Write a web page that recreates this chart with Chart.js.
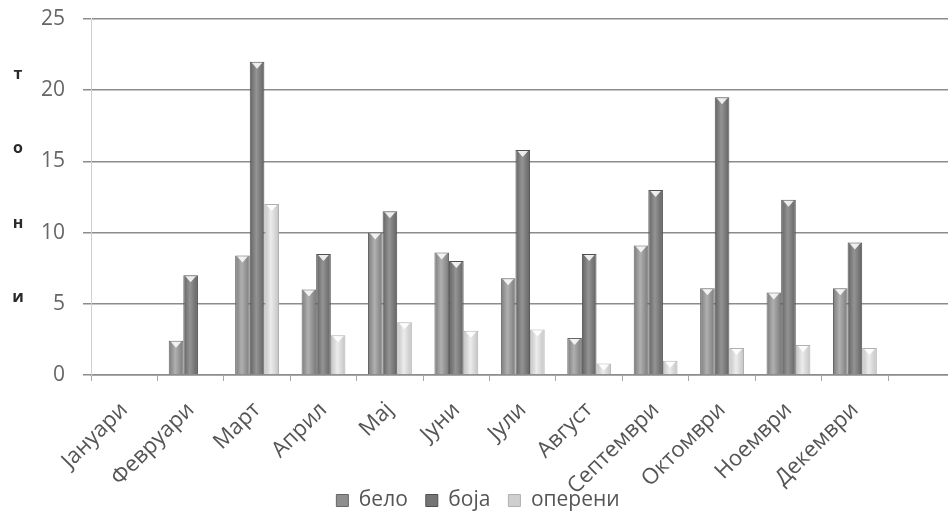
<!DOCTYPE html>
<html>
<head>
<meta charset="utf-8">
<script src="https://cdn.jsdelivr.net/npm/chart.js@4/dist/chart.umd.min.js"></script>
<style>
  html, body { margin: 0; padding: 0; background: #fff; overflow: hidden; }
  #wrap { width: 956px; height: 515px; position: relative; }
</style>
</head>
<body>
<div id="wrap"><canvas id="c"></canvas></div>
<script>
// Monthly quantities in tonnes (the trailing blank slot leaves room at the right edge)
const months = ['Јануари', 'Февруари', 'Март', 'Април', 'Мај', 'Јуни', 'Јули', 'Август', 'Септември', 'Октомври', 'Ноември', 'Декември', ''];
const belo    = [0, 2.4, 8.4, 6.0, 10.0, 8.6, 6.8, 2.6, 9.1, 6.1, 5.8, 6.1, null];
const boja    = [0, 7.0, 22.0, 8.5, 11.5, 8.0, 15.8, 8.5, 13.0, 19.5, 12.3, 9.3, null];
const opereni = [0, 0, 12.0, 2.8, 3.7, 3.1, 3.2, 0.8, 1.0, 1.9, 2.1, 1.9, null];
const seriesNames = ['бело', 'боја', 'оперени'];
const yTicks = [0, 5, 10, 15, 20, 25];
const unitLetters = ['т', 'о', 'н', 'и'];

const FONT = '"Open Sans", "Noto Sans", sans-serif';

// Cylinder-like shading: darker edges, lighter middle, small pale cap on top
const shade = {
  id: 'shade',
  beforeDatasetsDraw(chart) {
    const ctx = chart.ctx;
    chart.data.datasets.forEach((ds, i) => {
      chart.getDatasetMeta(i).data.forEach(el => {
        const { x, width } = el.getProps(['x', 'width'], true);
        if (!isFinite(x) || !isFinite(width)) return;
        const g = ctx.createLinearGradient(x - width / 2, 0, x + width / 2, 0);
        g.addColorStop(0, ds.tones[0]);
        g.addColorStop(0.45, ds.tones[1]);
        g.addColorStop(1, ds.tones[0]);
        el.options = Object.assign({}, el.options, { backgroundColor: g });
      });
    });
  },
  afterDatasetsDraw(chart) {
    const ctx = chart.ctx;
    ctx.save();
    chart.data.datasets.forEach((ds, i) => {
      chart.getDatasetMeta(i).data.forEach(el => {
        const { x, y, base, width } = el.getProps(['x', 'y', 'base', 'width'], true);
        if (!isFinite(y) || base - y < 4) return;
        ctx.fillStyle = ds.capColor;
        ctx.beginPath();
        ctx.moveTo(x - width / 2 + 2, y + 1);
        ctx.lineTo(x + width / 2 - 2, y + 1);
        ctx.lineTo(x, y + 7);
        ctx.closePath();
        ctx.fill();
      });
    });
    ctx.restore();
  }
};

// Unit title written letter by letter down the left side
const unitTitle = {
  id: 'unitTitle',
  afterDraw(chart) {
    const { ctx, chartArea } = chart;
    const h = chartArea.bottom - chartArea.top;
    ctx.save();
    ctx.font = 'bold 16px ' + FONT;
    ctx.fillStyle = '#2a2a2a';
    ctx.textAlign = 'center';
    ctx.textBaseline = 'middle';
    unitLetters.forEach((ch, i) => {
      ctx.fillText(ch, 18, chartArea.top + h * (0.155 + i * 0.2094));
    });
    ctx.restore();
  }
};

new Chart(document.getElementById('c'), {
  type: 'bar',
  data: {
    labels: months,
    datasets: [
      { label: seriesNames[0], data: belo,    backgroundColor: '#8e8e8e', tones: ['#7a7a7a', '#b0b0b0'], capColor: 'rgba(255,255,255,0.85)', borderColor: '#666666', borderWidth: 1 },
      { label: seriesNames[1], data: boja,    backgroundColor: '#747474', tones: ['#626262', '#949494'], capColor: 'rgba(255,255,255,0.85)', borderColor: '#505050', borderWidth: 1 },
      { label: seriesNames[2], data: opereni, backgroundColor: '#cfcfcf', tones: ['#c2c2c2', '#ececec'], capColor: 'rgba(255,255,255,0.9)',  borderColor: '#b0b0b0', borderWidth: 1 }
    ]
  },
  options: {
    responsive: true,
    maintainAspectRatio: false,
    animation: false,
    layout: { padding: { top: 19, left: 0, right: 0, bottom: -6 } },
    datasets: { bar: { categoryPercentage: 0.66, barPercentage: 1.0 } },
    plugins: {
      legend: {
        position: 'bottom',
        labels: {
          boxWidth: 12, boxHeight: 12, padding: 18,
          font: { family: FONT, size: 21 }, color: '#555'
        }
      },
      tooltip: { enabled: false }
    },
    scales: {
      x: {
        afterFit(scale) {
          scale.height = 97;
          // long rotated month names run down beside the legend, so keep them unclipped
          scale._computeLabelArea = () => undefined;
        },
        grid: { drawOnChartArea: false, drawTicks: true, tickLength: 6, color: '#a8a8a8', lineWidth: 1 },
        border: { display: true, color: '#8c8c8c', width: 1.5 },
        ticks: {
          maxRotation: 45, minRotation: 45, autoSkip: false,
          font: { family: FONT, size: 22 }, color: '#555', padding: 16
        }
      },
      y: {
        min: 0, max: 25,
        afterFit(scale) {
          scale.width = 91;
          scale.paddingTop = 0;
          scale.paddingBottom = 0;
        },
        afterBuildTicks(scale) { scale.ticks = yTicks.map(v => ({ value: v })); },
        grid: { color: '#8c8c8c', lineWidth: 1.5, drawTicks: true, tickLength: 8 },
        border: { display: true, color: '#cfcfcf', width: 1 },
        ticks: { font: { family: FONT, size: 21 }, color: '#666', padding: 18 }
      }
    }
  },
  plugins: [shade, unitTitle]
});
</script>
</body>
</html>
